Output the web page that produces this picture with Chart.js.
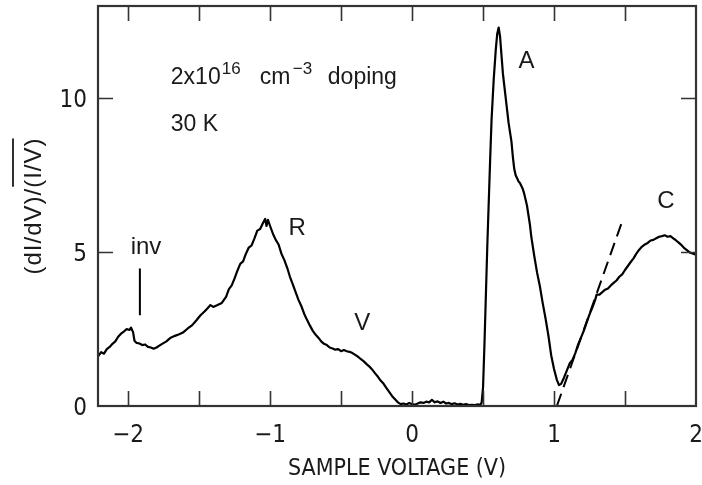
<!DOCTYPE html>
<html><head><meta charset="utf-8">
<script src="https://cdn.jsdelivr.net/npm/chart.js@4/dist/chart.umd.min.js"></script>
<style>html,body{margin:0;padding:0;background:#fff}#wrap{width:702px;height:485px;position:relative}</style>
</head><body><div id="wrap"><canvas id="c" width="702" height="485"></canvas></div>
<script>
// ---- data ----
const voltage = [
-2.21,-2.19,-2.17,-2.15,-2.13,-2.11,-2.09,-2.07,-2.05,-2.03,-2.01,-1.99,-1.98,-1.965,-1.955,-1.94,-1.92,-1.90,-1.88,-1.86,
-1.84,-1.82,-1.80,-1.78,-1.76,-1.73,-1.70,-1.67,-1.64,-1.61,-1.58,-1.55,-1.52,-1.49,-1.46,-1.44,-1.42,-1.40,-1.37,-1.34,
-1.31,-1.29,-1.27,-1.25,-1.23,-1.21,-1.19,-1.17,-1.15,-1.13,-1.11,-1.09,-1.07,-1.05,-1.035,-1.025,-1.015,-1.00,-0.98,-0.96,
-0.94,-0.92,-0.90,-0.88,-0.86,-0.84,-0.82,-0.80,-0.78,-0.76,-0.74,-0.72,-0.70,-0.68,-0.66,-0.64,-0.62,-0.60,-0.58,-0.56,
-0.54,-0.52,-0.50,-0.48,-0.46,-0.44,-0.42,-0.40,-0.38,-0.36,-0.34,-0.32,-0.30,-0.28,-0.26,-0.24,-0.22,-0.20,-0.18,-0.16,
-0.14,-0.12,-0.10,-0.08,-0.06,-0.04,-0.02,0.00,0.02,0.04,0.06,0.08,0.10,0.12,0.14,0.16,0.18,0.20,0.22,0.24,
0.26,0.28,0.30,0.32,0.34,0.36,0.38,0.40,0.42,0.44,0.46,0.48,0.49,0.50,0.51,0.52,0.53,0.54,0.55,0.56,
0.575,0.59,0.60,0.61,0.62,0.63,0.64,0.65,0.66,0.67,0.68,0.69,0.70,0.71,0.72,0.73,0.74,0.75,0.76,0.77,
0.78,0.79,0.80,0.81,0.82,0.83,0.84,0.86,0.88,0.90,0.92,0.94,0.96,0.98,1.00,1.02,1.035,1.05,1.07,1.09,
1.11,1.13,1.15,1.17,1.19,1.21,1.23,1.25,1.27,1.29,1.30,1.32,1.34,1.36,1.38,1.40,1.42,1.44,1.46,1.48,
1.50,1.52,1.54,1.56,1.58,1.60,1.62,1.64,1.66,1.68,1.70,1.72,1.74,1.76,1.78,1.80,1.82,1.84,1.86,1.88,
1.90,1.92,1.94,1.96,1.98,2.00
];
const conductance = [
1.62,1.75,1.70,1.85,1.92,2.02,2.10,2.25,2.35,2.42,2.50,2.47,2.55,2.40,2.12,2.05,2.03,1.98,2.00,1.92,
1.90,1.86,1.90,1.96,2.02,2.10,2.22,2.28,2.33,2.40,2.52,2.62,2.78,2.95,3.08,3.18,3.28,3.22,3.28,3.35,
3.55,3.80,3.92,4.15,4.40,4.62,4.70,4.95,5.15,5.22,5.45,5.70,5.75,5.95,6.08,5.85,6.05,5.85,5.60,5.40,
5.25,4.95,4.75,4.50,4.20,3.95,3.70,3.45,3.25,3.00,2.80,2.62,2.45,2.32,2.22,2.10,2.02,1.98,1.90,1.87,
1.83,1.85,1.78,1.82,1.78,1.76,1.72,1.66,1.60,1.52,1.45,1.36,1.28,1.18,1.06,0.95,0.82,0.72,0.58,0.45,
0.32,0.22,0.12,0.06,0.08,0.05,0.10,0.06,0.04,0.08,0.12,0.10,0.14,0.12,0.20,0.12,0.15,0.10,0.14,0.08,
0.10,0.06,0.09,0.05,0.07,0.04,0.06,0.03,0.04,0.03,0.05,0.04,0.10,0.60,2.0,3.6,5.2,6.6,8.0,9.3,
10.6,11.6,12.1,12.3,12.0,11.4,10.8,10.4,10.0,9.6,9.2,8.9,8.6,8.1,7.7,7.5,7.4,7.3,7.25,7.15,
7.05,6.9,6.7,6.5,6.2,5.9,5.5,4.9,4.35,3.9,3.35,2.85,2.3,1.65,1.2,0.85,0.68,0.72,0.92,1.15,
1.38,1.50,1.72,2.0,2.22,2.45,2.72,2.98,3.20,3.45,3.62,3.62,3.70,3.78,3.82,3.92,4.00,4.08,4.20,4.28,
4.42,4.55,4.68,4.80,4.95,5.08,5.18,5.25,5.30,5.38,5.40,5.45,5.50,5.52,5.55,5.50,5.52,5.45,5.38,5.30,
5.22,5.12,5.05,4.98,4.95,4.92
];
const extrapolationX = [1.02, 1.48];
const extrapolationY = [0.0, 6.0];
const invMarkerX = [-1.917, -1.917];
const invMarkerY = [2.95, 4.47];
const xMajorTicks = [-2, -1, 0, 1, 2];
const xMinorTicks = [-1.5, -0.5, 0.5, 1.5];
const yMajorTicks = [0, 5, 10];
const xAxisTitle = 'SAMPLE VOLTAGE (V)';
const yAxisTitleMain = '(dI/dV)/';
const yAxisTitleOver = '(I/V)';
const peakLabels = ['A', 'C', 'R', 'V', 'inv'];
const peakLabelX = [0.807, 1.788, -0.809, -0.351, -1.874];
const peakLabelY = [11.0, 6.44, 5.56, 2.47, 4.94];
const conditionLine1 = ['2x10', '16', 'cm', '\u22123', 'doping'];
const conditionLine2 = '30 K';

// ---- chart ----
const XMIN = -2.212, XMAX = 2.0, YMIN = 0, YMAX = 13;
const NARROW = "'Liberation Sans Narrow','DejaVu Sans Condensed','Liberation Sans',sans-serif";
const REG = "'Liberation Sans',Arial,sans-serif";
const fmt = v => (v < 0 ? '\u2212' + Math.abs(v) : String(v));
const TXT = '#1a1a1a';

const deco = {
  id: 'deco',
  afterDraw(chart) {
    const ctx = chart.ctx, a = chart.chartArea;
    const xs = chart.scales.x, ys = chart.scales.y;
    ctx.save();
    // inward ticks
    ctx.strokeStyle = '#333'; ctx.lineWidth = 1.6;
    const TL = 15;
    ctx.beginPath();
    xMajorTicks.concat(xMinorTicks).forEach(v => {
      const px = Math.round(xs.getPixelForValue(v)) + 0.5;
      if (px <= a.left + 1 || px >= a.right - 1) return;
      ctx.moveTo(px, a.bottom); ctx.lineTo(px, a.bottom - TL);
      ctx.moveTo(px, a.top); ctx.lineTo(px, a.top + TL);
    });
    yMajorTicks.forEach(v => {
      const py = Math.round(ys.getPixelForValue(v)) + 0.5;
      if (py <= a.top + 1 || py >= a.bottom - 1) return;
      ctx.moveTo(a.left, py); ctx.lineTo(a.left + TL, py);
      ctx.moveTo(a.right, py); ctx.lineTo(a.right - TL, py);
    });
    ctx.stroke();
    // frame
    ctx.lineWidth = 2.2; ctx.strokeStyle = '#333';
    ctx.strokeRect(a.left, a.top, a.right - a.left, a.bottom - a.top);

    // tick labels
    ctx.fillStyle = TXT;
    ctx.font = '24px ' + NARROW;
    ctx.textBaseline = 'alphabetic';
    ctx.textAlign = 'center';
    xMajorTicks.forEach(v => ctx.fillText(fmt(v), xs.getPixelForValue(v), a.bottom + 36));
    ctx.textAlign = 'right';
    yMajorTicks.forEach(v => ctx.fillText(fmt(v), a.left - 11, ys.getPixelForValue(v) + 9));

    // x-axis title
    ctx.font = '23px ' + NARROW;
    ctx.textAlign = 'center';
    ctx.fillText(xAxisTitle, (a.left + a.right) / 2, a.bottom + 69);

    // y-axis title (rotated), with overline on I/V
    ctx.font = '24px ' + REG;
    if ('letterSpacing' in ctx) ctx.letterSpacing = '1px';
    const w1 = ctx.measureText(yAxisTitleMain).width;
    const w2 = ctx.measureText(yAxisTitleOver).width;
    const tot = w1 + w2;
    ctx.save();
    ctx.translate(33, (a.top + a.bottom) / 2);
    ctx.rotate(-Math.PI / 2);
    ctx.textBaseline = 'middle'; ctx.textAlign = 'left';
    ctx.fillText(yAxisTitleMain, -tot / 2, 1);
    ctx.fillText(yAxisTitleOver, -tot / 2 + w1, 1);
    ctx.strokeStyle = TXT; ctx.lineWidth = 1.8;
    ctx.beginPath();
    ctx.moveTo(-tot / 2 + w1 + 1, -20); ctx.lineTo(tot / 2 - 1, -20);
    ctx.stroke();
    ctx.restore();
    if ('letterSpacing' in ctx) ctx.letterSpacing = '0px';

    // peak labels
    ctx.textBaseline = 'alphabetic';
    ctx.font = '24px ' + REG;
    ctx.textAlign = 'center';
    peakLabels.forEach((t, i) => {
      ctx.fillText(t, xs.getPixelForValue(peakLabelX[i]), ys.getPixelForValue(peakLabelY[i]));
    });

    // condition text
    ctx.textAlign = 'left';
    const x0 = xs.getPixelForValue(-1.699), b1 = ys.getPixelForValue(10.45), b2 = ys.getPixelForValue(8.93);
    const offs = [0, 51, 89, 122, 157];
    conditionLine1.forEach((t, i) => {
      const sup = (i === 1 || i === 3);
      ctx.font = (sup ? '17px ' : '23px ') + REG;
      ctx.fillText(t, x0 + offs[i], sup ? b1 - 10 : b1);
    });
    ctx.font = '23px ' + REG;
    ctx.fillText(conditionLine2, x0, b2);
    ctx.restore();
  }
};

const xy = (xsArr, ysArr) => xsArr.map((x, i) => ({ x, y: ysArr[i] }));

new Chart(document.getElementById('c'), {
  type: 'line',
  data: {
    datasets: [
      { data: xy(voltage, conductance), borderColor: '#000', borderWidth: 2.2, pointRadius: 0, tension: 0, fill: false },
      { data: xy(extrapolationX, extrapolationY), borderColor: '#000', borderWidth: 2, borderDash: [13, 7], pointRadius: 0, fill: false },
      { data: xy(invMarkerX, invMarkerY), borderColor: '#000', borderWidth: 2, pointRadius: 0, fill: false }
    ]
  },
  options: {
    responsive: false, animation: false, devicePixelRatio: 1,
    layout: { padding: { top: 6, right: 6, left: 0, bottom: 0 } },
    plugins: { legend: { display: false }, tooltip: { enabled: false } },
    elements: { line: { borderCapStyle: 'butt', borderJoinStyle: 'round' } },
    scales: {
      x: {
        type: 'linear', min: XMIN, max: XMAX,
        grid: { display: false, drawTicks: false }, border: { display: false },
        afterBuildTicks: s => { s.ticks = xMajorTicks.map(v => ({ value: v })); },
        afterFit: s => { s.height = 79; },
        ticks: { display: false }
      },
      y: {
        type: 'linear', min: YMIN, max: YMAX,
        grid: { display: false, drawTicks: false }, border: { display: false },
        afterBuildTicks: s => { s.ticks = yMajorTicks.map(v => ({ value: v })); },
        afterFit: s => { s.width = 98; },
        ticks: { display: false }
      }
    }
  },
  plugins: [deco]
});
</script>
</body></html>
